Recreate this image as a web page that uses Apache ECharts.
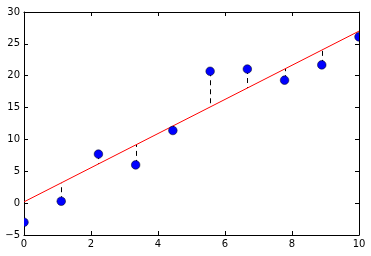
<!DOCTYPE html>
<html><head><meta charset="utf-8">
<script src="https://cdn.jsdelivr.net/npm/echarts@6/dist/echarts.min.js"></script>
<style>html,body{margin:0;padding:0;background:#fff}#c{width:371px;height:256px}</style>
</head><body><div id="c"></div>
<script>
const xValues = [0, 1.111, 2.222, 3.333, 4.444, 5.556, 6.667, 7.778, 8.889, 10];
const yValues = [-3.0, 0.3, 7.7, 6.0, 11.4, 20.7, 21.05, 19.3, 21.7, 26.1];
const fitX = [0, 10];
const fitY = [0.2, 27.0];
const xTicks = [0, 2, 4, 6, 8, 10];
const yTicks = [-5, 0, 5, 10, 15, 20, 25, 30];

function fitAt(x) {
  return fitY[0] + (fitY[1] - fitY[0]) * (x - fitX[0]) / (fitX[1] - fitX[0]);
}
const fmt = v => String(v).replace('-', '\u2212');
const font = {fontFamily: 'DejaVu Sans', fontSize: 10, color: '#000'};
const axisCommon = {
  axisLine: {show: true, onZero: false, lineStyle: {color: '#000', width: 1}},
  axisTick: {show: true, inside: true, length: 4, lineStyle: {color: '#000'}},
  splitLine: {show: false}
};
const chart = echarts.init(document.getElementById('c'), null, {renderer: 'canvas'});
chart.setOption({
  animation: false,
  grid: {left: 24, right: 12, top: 12, bottom: 21, containLabel: false},
  xAxis: [
    Object.assign({type: 'value', min: xTicks[0], max: xTicks[xTicks.length - 1], interval: 2, position: 'bottom',
      axisLabel: Object.assign({margin: 4, formatter: fmt}, font)}, axisCommon),
    Object.assign({type: 'value', min: xTicks[0], max: xTicks[xTicks.length - 1], interval: 2, position: 'top',
      axisLabel: {show: false}}, axisCommon)
  ],
  yAxis: [
    Object.assign({type: 'value', min: yTicks[0], max: yTicks[yTicks.length - 1], interval: 5, position: 'left',
      axisLabel: Object.assign({margin: 4, formatter: fmt}, font)}, axisCommon),
    Object.assign({type: 'value', min: yTicks[0], max: yTicks[yTicks.length - 1], interval: 5, position: 'right',
      axisLabel: {show: false}}, axisCommon)
  ],
  series: [
    {
      type: 'custom', xAxisIndex: 0, yAxisIndex: 0, clip: true, silent: true, z: 2,
      data: xValues.map((x, i) => [x, yValues[i], fitAt(x)]),
      renderItem: function (params, api) {
        const p1 = api.coord([api.value(0), api.value(1)]);
        const p2 = api.coord([api.value(0), api.value(2)]);
        const x = Math.round(p1[0]) + 0.5;
        return {
          type: 'line',
          shape: {x1: x, y1: p1[1], x2: x, y2: p2[1]},
          style: {stroke: '#000', lineWidth: 1, lineDash: [5, 4]}
        };
      }
    },
    {
      type: 'line', xAxisIndex: 0, yAxisIndex: 0, showSymbol: false, symbol: 'none', z: 3,
      lineStyle: {color: '#ff0000', width: 1},
      data: fitX.map((x, i) => [x, fitY[i]])
    },
    {
      type: 'custom', xAxisIndex: 0, yAxisIndex: 0, clip: true, silent: true, z: 4,
      data: xValues.map((x, i) => [x, yValues[i]]),
      renderItem: function (params, api) {
        const p = api.coord([api.value(0), api.value(1)]);
        return {
          type: 'circle',
          shape: {cx: p[0], cy: p[1], r: 4.3},
          style: {fill: '#0000ff', stroke: '#000', lineWidth: 0.5}
        };
      }
    }
  ]
});
</script></body></html>
